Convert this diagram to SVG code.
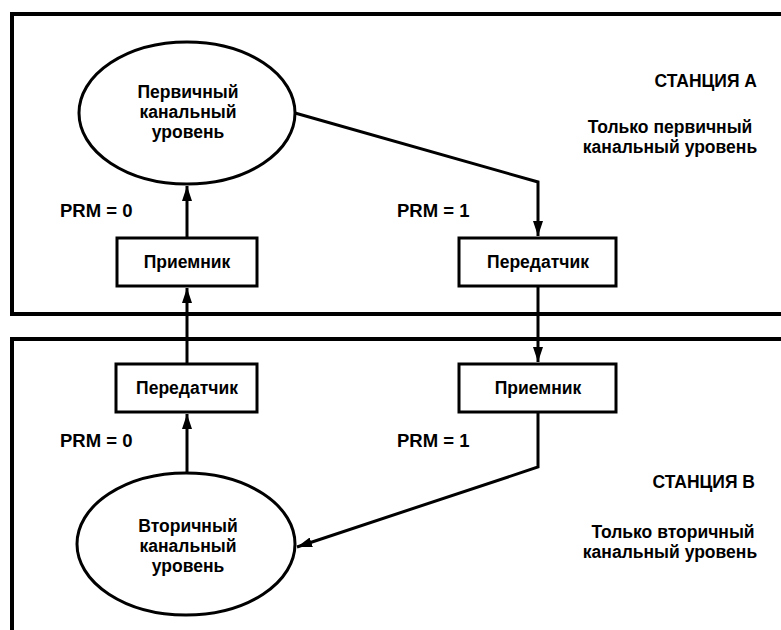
<svg xmlns="http://www.w3.org/2000/svg" width="781" height="630" viewBox="0 0 781 630">
<style>
.frame{fill:none;stroke:#000;stroke-width:4}
.node{fill:#fff;stroke:#000;stroke-width:3}
.conn{fill:none;stroke:#000;stroke-width:3}
text{font-family:"Liberation Sans",Arial,sans-serif;font-weight:bold;font-size:17.5px;fill:#000}
.c{text-anchor:middle}
.e{text-anchor:end}
.prm{font-size:18.5px}
</style>
<defs>
<marker id="arr" markerUnits="userSpaceOnUse" markerWidth="15" markerHeight="10" refX="15" refY="5" orient="auto">
<path d="M0,0 L15,5 L0,10 z" fill="#000"/>
</marker>
</defs>
<rect width="781" height="630" fill="#fff"/>
<g id="stationA">
<rect class="frame" x="12" y="14" width="790" height="300"/>
<text class="e" x="757" y="87">СТАНЦИЯ А</text>
<text class="c" x="670" y="133">Только первичный</text>
<text class="c" x="670" y="153">канальный уровень</text>
</g>
<g id="stationB">
<rect class="frame" x="12" y="339" width="790" height="320"/>
<text class="e" x="755" y="488">СТАНЦИЯ В</text>
<text class="c" x="673" y="538">Только вторичный</text>
<text class="c" x="670" y="558">канальный уровень</text>
</g>
<g id="connectors">
<polyline class="conn" points="295,113 538,182 538,236" marker-end="url(#arr)"/>
<line class="conn" x1="538" y1="287" x2="538" y2="362" marker-end="url(#arr)"/>
<polyline class="conn" points="538,413 538,467 297,547" marker-end="url(#arr)"/>
<line class="conn" x1="187" y1="473" x2="187" y2="414" marker-end="url(#arr)"/>
<line class="conn" x1="187" y1="363" x2="187" y2="288" marker-end="url(#arr)"/>
<line class="conn" x1="187" y1="237" x2="187" y2="186" marker-end="url(#arr)"/>
<text class="prm" x="60" y="217">PRM = 0</text>
<text class="prm" x="397" y="217">PRM = 1</text>
<text class="prm" x="60" y="447">PRM = 0</text>
<text class="prm" x="397" y="447">PRM = 1</text>
</g>
<g id="primaryLayer">
<ellipse class="node" cx="187" cy="113" rx="108" ry="71"/>
<text class="c" x="188" y="98">Первичный</text>
<text class="c" x="188" y="118">канальный</text>
<text class="c" x="188" y="138">уровень</text>
</g>
<g id="receiverA">
<rect class="node" x="117" y="238" width="140" height="48"/>
<text class="c" x="187" y="268">Приемник</text>
</g>
<g id="transmitterA">
<rect class="node" x="459" y="238" width="157" height="48"/>
<text class="c" x="538" y="268">Передатчик</text>
</g>
<g id="transmitterB">
<rect class="node" x="116" y="364" width="141" height="48"/>
<text class="c" x="187" y="394">Передатчик</text>
</g>
<g id="receiverB">
<rect class="node" x="459" y="364" width="157" height="48"/>
<text class="c" x="538" y="394">Приемник</text>
</g>
<g id="secondaryLayer">
<ellipse class="node" cx="186" cy="544" rx="109" ry="71"/>
<text class="c" x="188" y="532">Вторичный</text>
<text class="c" x="188" y="552">канальный</text>
<text class="c" x="188" y="572">уровень</text>
</g>
</svg>
